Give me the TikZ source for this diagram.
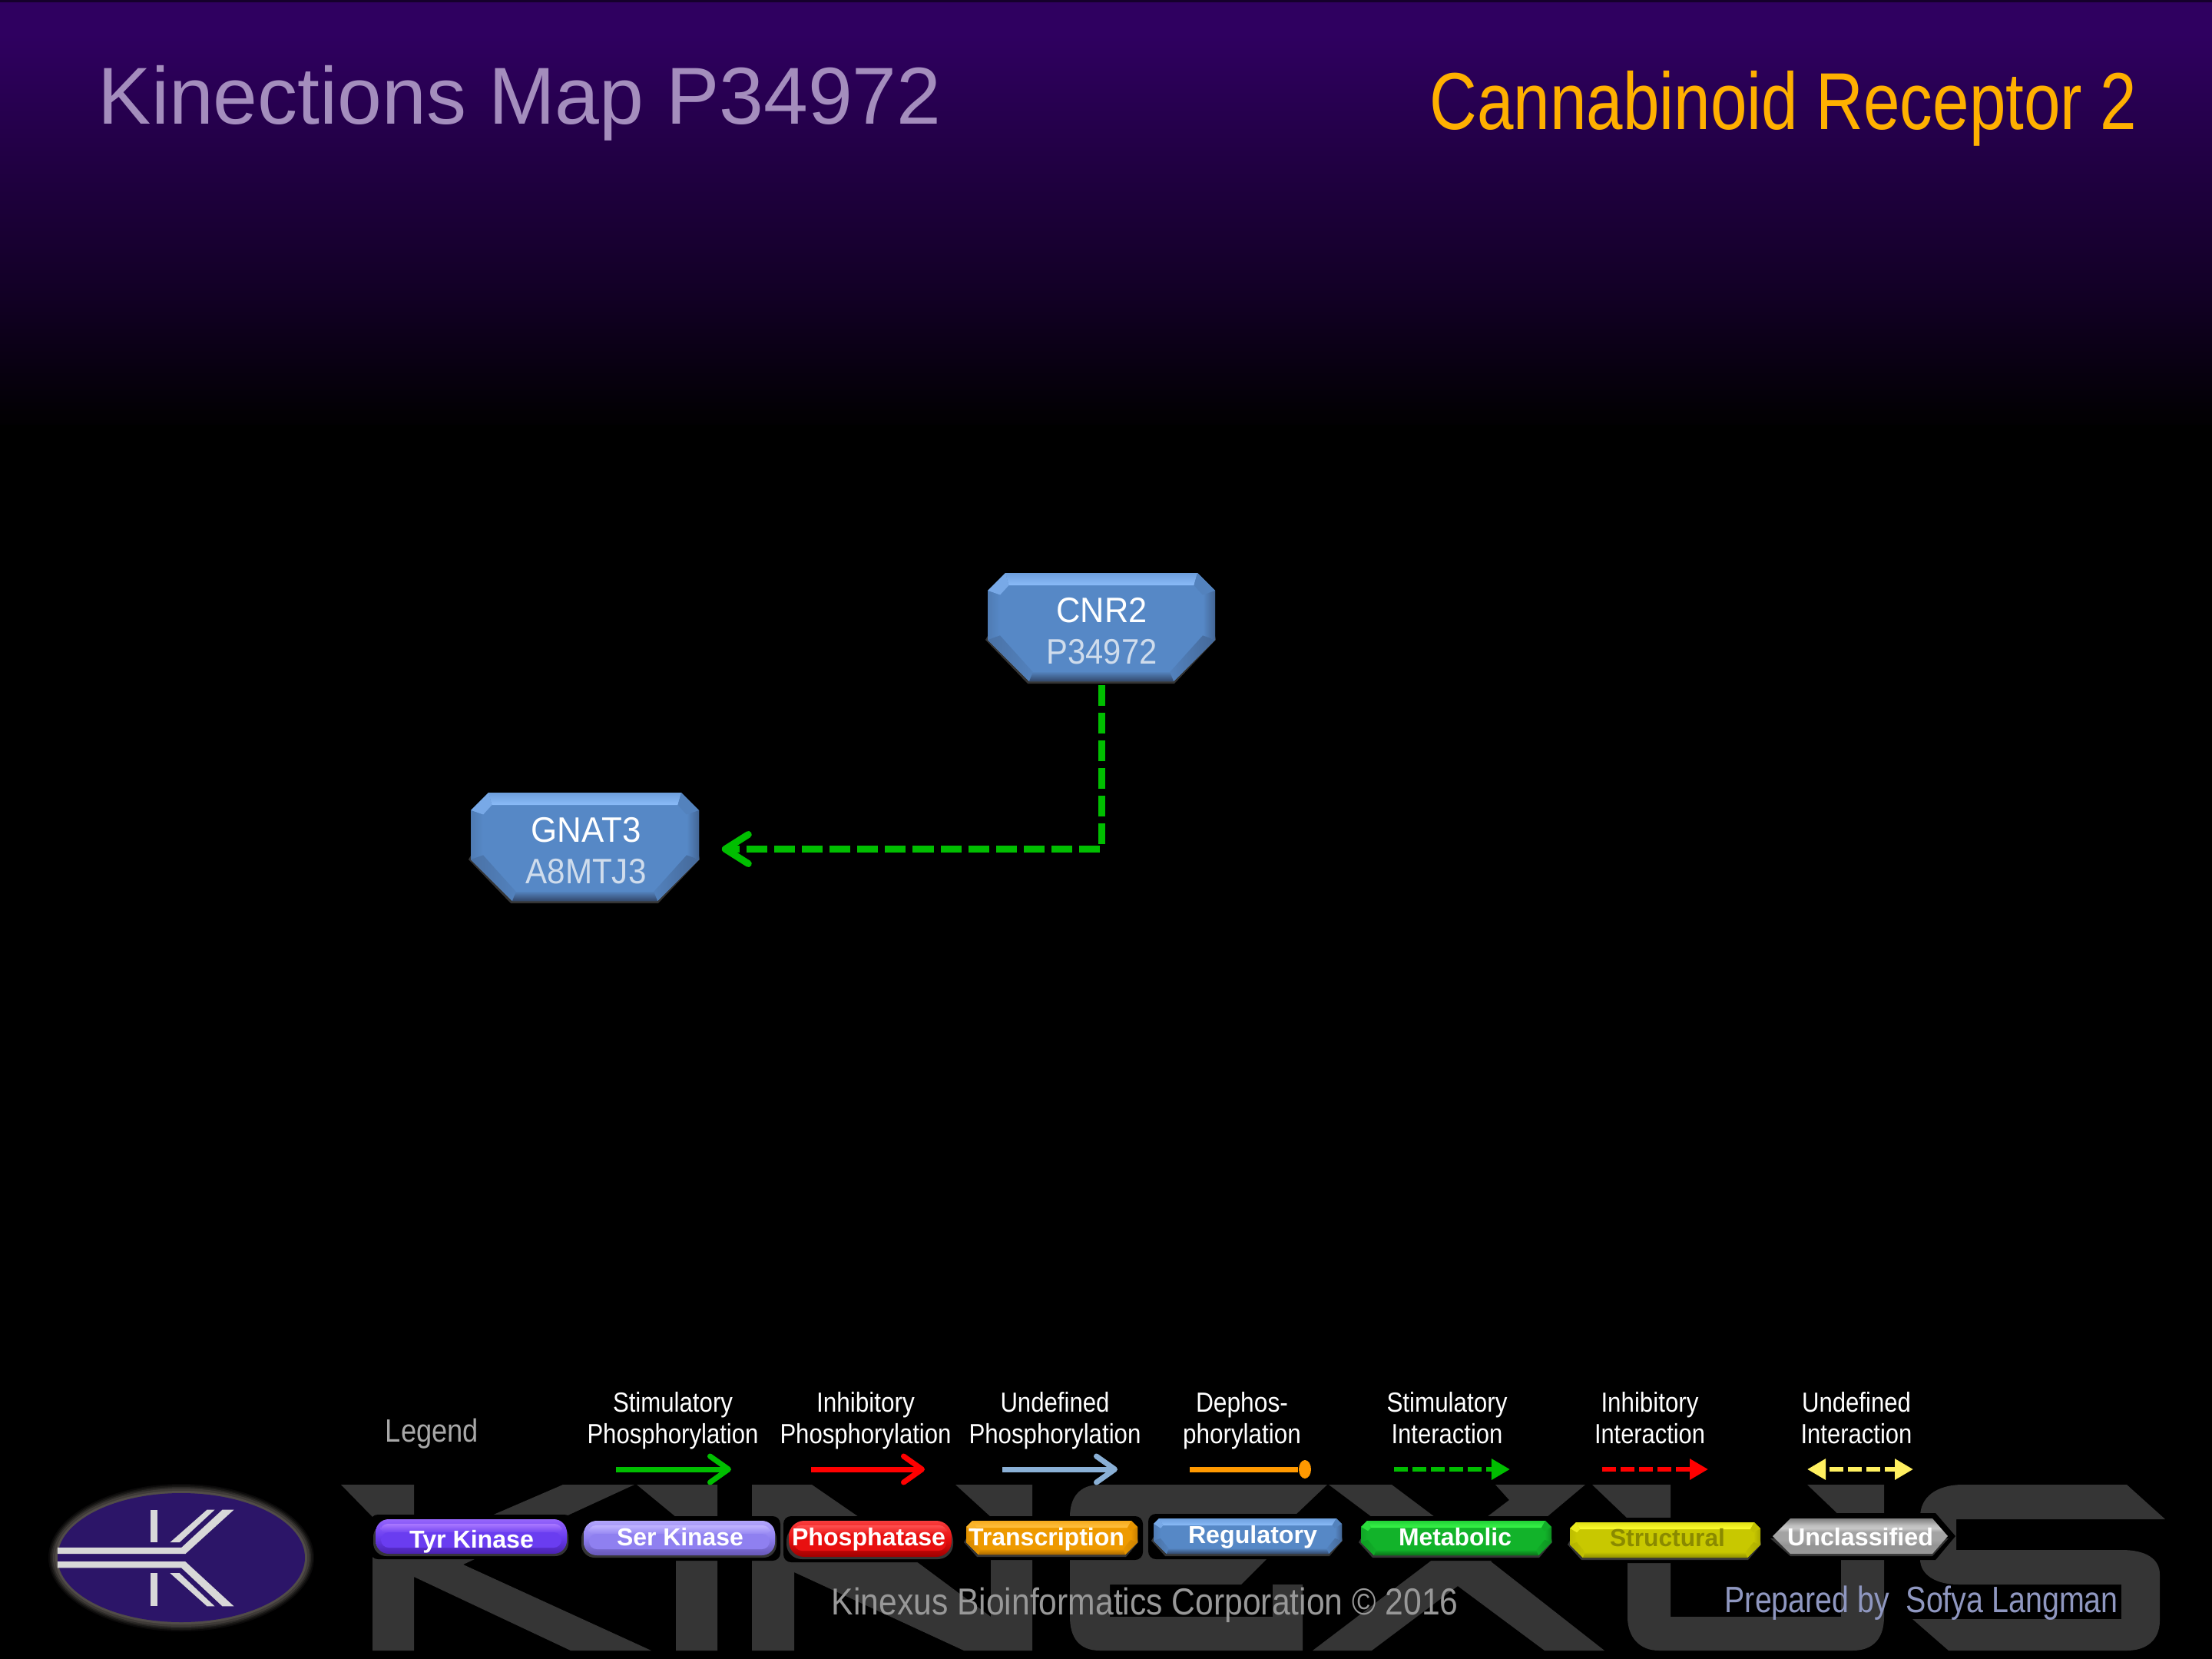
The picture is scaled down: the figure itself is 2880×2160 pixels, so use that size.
\documentclass[tikz,border=0pt]{standalone}
\usepackage{fontspec}
\usepackage{graphicx}
\usetikzlibrary{arrows.meta,shapes.geometric}
\setmainfont{Liberation Sans}
\newlength\pxu \setlength\pxu{0.01cm}
\newcommand{\fw}[2]{\resizebox{#1\pxu}{\height}{#2}}
\definecolor{wmark}{HTML}{353535}
\definecolor{headpurple}{HTML}{2F0060}
\definecolor{titlec}{HTML}{A48DBD}
\definecolor{gold}{HTML}{FFB000}
\definecolor{lgreen}{HTML}{00BE00}
\definecolor{lblue}{HTML}{8AB0D6}
\definecolor{lorange}{HTML}{FF9900}
\definecolor{lyellow}{HTML}{FFF060}
\definecolor{acctext}{HTML}{CFDCEC}
\definecolor{legendc}{HTML}{A8A8A8}
\definecolor{corpc}{HTML}{989898}
\definecolor{prepc}{HTML}{8F97C0}
\definecolor{logoc}{HTML}{2C1568}
\definecolor{logom}{HTML}{D8D8D8}
\definecolor{logoh}{HTML}{5A5550}
\definecolor{structc}{HTML}{8A8A00}
\definecolor{regbase}{HTML}{5688C6}\definecolor{reglite}{HTML}{8ABBF8}\definecolor{regdark}{HTML}{33486A}
\definecolor{trabase}{HTML}{EE9A00}\definecolor{tralite}{HTML}{FFC040}\definecolor{tradark}{HTML}{A86800}
\definecolor{metbase}{HTML}{12B32A}\definecolor{metlite}{HTML}{38F548}\definecolor{metdark}{HTML}{0A7018}
\definecolor{strbase}{HTML}{C8C800}\definecolor{strlite}{HTML}{FFFF30}\definecolor{strdark}{HTML}{8E8E00}
\definecolor{tyrbase}{HTML}{6A3DF0}\definecolor{tyrlite}{HTML}{A977FF}\definecolor{tyrdark}{HTML}{4A22B0}
\definecolor{serbase}{HTML}{8F80F0}\definecolor{serlite}{HTML}{C0B4FF}\definecolor{serdark}{HTML}{6757B8}
\definecolor{phobase}{HTML}{E81010}\definecolor{pholite}{HTML}{FF5050}\definecolor{phodark}{HTML}{A00000}
\pgfdeclareverticalshading{hexgray}{100bp}{color(0bp)=(black!40); color(25bp)=(black!40); color(37.5bp)=(black!42); color(44bp)=(black!36); color(56bp)=(black!36); color(61bp)=(black!22); color(65bp)=(black!25); color(75bp)=(black!50); color(100bp)=(black!50)}
\pgfdeclareverticalshading{headfade}{100bp}{color(0bp)=(black); color(25bp)=(headpurple!3!black); color(26.5bp)=(headpurple!5!black); color(40bp)=(headpurple!38!black); color(51bp)=(headpurple!60!black); color(71bp)=(headpurple); color(100bp)=(headpurple)}
\colorlet{wmarkshadow}{wmark}
% L R T B cu cl d prefix
\newcommand{\bevel}[8]{
  \fill[wmarkshadow] (#1-3,#4-#6) -- (#1+#6-2,#4+3) -- (#2-#6+1,#4+3) -- (#2+1,#4-#6) -- (#2,#4-#6-5) -- (#1,#4-#6-5) -- cycle;
  \fill[#8base] (#1+#5,#3) -- (#2-#5,#3) -- (#2,#3+#5) -- (#2,#4-#6) -- (#2-#6,#4) -- (#1+#6,#4) -- (#1,#4-#6) -- (#1,#3+#5) -- cycle;
  \shade[top color=#8base!55!#8lite, middle color=#8lite!85!#8base, bottom color=#8lite] (#1+#5,#3) -- (#2-#5,#3) -- (#2-#7-.5*#5,#3+#7) -- (#1+#7+.5*#5,#3+#7) -- cycle;
  \fill[#8base!35!#8lite] (#1,#3+#5) -- (#1+#5,#3) -- (#1+#7+.5*#5,#3+#7) -- (#1+#7,#3+#7+.55*#5) -- cycle;
  \fill[#8base!90!#8dark] (#2-#5,#3) -- (#2,#3+#5) -- (#2-#7,#3+#7+.55*#5) -- (#2-#7-.5*#5,#3+#7) -- cycle;
  \shade[left color=#8base!80!#8dark, right color=#8base] (#1,#3+#5) -- (#1+#7,#3+#7+.55*#5) -- (#1+#7,#4-#6-.35*#7) -- (#1,#4-#6) -- cycle;
  \shade[right color=#8base!45!#8dark, left color=#8base] (#2,#3+#5) -- (#2-#7,#3+#7+.55*#5) -- (#2-#7,#4-#6-.35*#7) -- (#2,#4-#6) -- cycle;
  \shade[left color=#8base!65!#8dark, right color=#8base!90!#8dark] (#1,#4-#6) -- (#1+#7,#4-#6-.35*#7) -- (#1+#6+.3*#7,#4-.75*#7) -- (#1+#6,#4) -- cycle;
  \shade[right color=#8base!50!#8dark, left color=#8base!90!#8dark] (#2,#4-#6) -- (#2-#7,#4-#6-.35*#7) -- (#2-#6-.3*#7,#4-.75*#7) -- (#2-#6,#4) -- cycle;
  \shade[top color=#8base!90!#8dark, bottom color=#8dark] (#1+#6,#4) -- (#2-#6,#4) -- (#2-#6-.3*#7,#4-.75*#7) -- (#1+#6+.3*#7,#4-.75*#7) -- cycle;
}
% black surround of a legend box: L R T B
\newcommand{\halo}[4]{\fill[black,rounded corners=.1cm] (#1-7,#3-6) rectangle (#2+7,#4+7);}
% L R T B radius prefix
\newcommand{\pill}[6]{
  \halo{#1}{#2}{#3}{#4}
  \fill[wmarkshadow,rounded corners=#5] (#1-3,#3+6) rectangle (#2+2,#4+3);
  \shade[top color=#6lite!70!#6base, bottom color=#6dark, middle color=#6base, rounded corners=#5] (#1,#3) rectangle (#2,#4);
  \shade[top color=#6lite, bottom color=#6base, rounded corners=.1cm] (#1+6,#3+6) rectangle (#2-6,#3+19);
  \fill[#6base,rounded corners=.1cm] (#1+7,#3+17) rectangle (#2-7,#4-8);
}
\tikzset{
  wm/.style={fill=wmark},
  protein/.style={minimum width=2.97cm,minimum height=1.41cm,inner sep=0pt,align=center,text=white,
     font=\fontsize{13.1}{15.36}\selectfont},
  pilltext/.style={anchor=base,inner sep=0pt,text=white,font=\fontsize{9.1}{11}\selectfont\bfseries},
  legtext/.style={anchor=base,inner sep=0pt,align=center,text=white,font=\fontsize{10.24}{11.66}\selectfont},
  link/.style={lgreen,line width=.09cm,dash pattern=on .27cm off .09cm},
  barb/.style={-{Straight Barb[length=.24cm,width=.34cm,round,line width=.07cm]},line width=.07cm},
  tridash/.style={line width=.06cm,dash pattern=on .18cm off .06cm},
}
\begin{document}
\begin{tikzpicture}[x=0.01cm,y=-0.01cm]
\useasboundingbox (0,0) rectangle (2880,2160);
\fill[black] (0,0) rectangle (2880,2160);
\shade[shading=headfade] (0,0) rectangle (2880,552);
\fill[headpurple!45!black] (0,0) rectangle (2880,3);

% watermark
\fill[wm] (444,1933) -- (539,1933) -- (539,2000) -- (638,1974) -- (733,1933) -- (826,1933) -- (737,1974) -- (603,2037) -- (848,2149) -- (743,2149) -- (539,2053) -- (539,2149) -- (485,2149) -- (485,1975) -- cycle;
\fill[wm] (829,1933) -- (934,1933) -- (934,2149) -- (880,2149) -- (880,1975) -- cycle;
\fill[wm] (979,1933) -- (1057,1933) -- (1118,1975) -- (1189,2030) -- (1290,2105) -- (1290,1975) -- (1244,1933) -- (1344,1933) -- (1344,2149) -- (1255,2149) -- (1034,2047) -- (1034,2149) -- (979,2149) -- cycle;
\fill[wm] (1393,1975) .. controls (1393,1950) and (1405,1933) .. (1432,1933) -- (1728,1933) -- (1686,1973) -- (1652,2027) -- (1616,2063) -- (1445,2063) -- (1445,2105) -- (1657,2105) -- (1657,2063) -- (1696,2063) -- (1696,2149) -- (1432,2149) .. controls (1405,2149) and (1393,2132) .. (1393,2105) -- cycle;
\fill[wm] (1730,1933) -- (1812,1933) -- (1868,1975) -- (1936,1975) -- (1965,1953) -- (1947,1933) -- (2064,1933) -- (2014,1975) -- (1941,2033) -- (2089,2149) -- (2011,2149) -- (1898,2065) -- (1786,2149) -- (1709,2149) -- (1866,2030) -- (1786,1975) -- cycle;
\fill[wm] (2073,1933) -- (2175,1933) -- (2175,2105) -- (2397,2105) -- (2397,1975) -- (2353,1933) -- (2453,1933) -- (2453,2105) .. controls (2453,2132) and (2440,2149) .. (2412,2149) -- (2160,2149) .. controls (2135,2149) and (2119,2132) .. (2119,2105) -- (2119,1977) -- cycle;
\fill[wm] (2500,1975) .. controls (2500,1950) and (2520,1933) .. (2556,1933) -- (2769,1933) -- (2819,1978) -- (2547,1978) -- (2547,2018) -- (2762,2018) .. controls (2795,2018) and (2812,2030) .. (2812,2050) -- (2812,2110) .. controls (2812,2135) and (2795,2149) .. (2769,2149) -- (2537,2149) -- (2490,2108) -- (2762,2108) -- (2762,2063) -- (2550,2063) .. controls (2520,2063) and (2500,2050) .. (2500,2030) -- cycle;

% titles
\node[anchor=base west,inner sep=0pt,text=titlec,font=\fontsize{29.9}{34}\selectfont] (maptitle) at (127,161) {\fw{1098}{Kinections Map P34972}};
\node[anchor=base west,inner sep=0pt,text=gold,font=\fontsize{29.9}{34}\selectfont] (protname) at (1861,168) {\fw{921}{Cannabinoid Receptor 2}};

% proteins
\bevel{1286}{1582}{746}{887}{23}{54}{16}{reg}
\bevel{613}{910}{1032}{1173}{23}{54}{16}{reg}
\node[protein] (cnr2) at (1434.5,819.5) {\rule{0pt}{.356cm}\fw{118}{CNR2}\\\textcolor{acctext}{\fw{144}{P34972}}};
\node[protein] (gnat3) at (763,1105.5) {\rule{0pt}{.356cm}\fw{143}{GNAT3}\\\textcolor{acctext}{\fw{157}{A8MTJ3}}};
\draw[link,-{Straight Barb[length=.30cm,width=.38cm,round,line width=.09cm]},shorten <=.015cm,shorten >=.275cm] (cnr2.south) |- (gnat3.east);

% legend headings
\node[anchor=base,inner sep=0pt,text=legendc,font=\fontsize{11.95}{14}\selectfont] (legend) at (562.5,1877) {\fw{121}{Legend}};
\node[legtext] (h1) at (876,1879) {\fw{156}{Stimulatory}\\\fw{223}{Phosphorylation}};
\node[legtext] (h2) at (1127,1879) {\fw{128}{Inhibitory}\\\fw{223}{Phosphorylation}};
\node[legtext] (h3) at (1373.5,1879) {\fw{142}{Undefined}\\\fw{224}{Phosphorylation}};
\node[legtext] (h4) at (1617,1879) {\fw{120}{Dephos-}\\\fw{154}{phorylation}};
\node[legtext] (h5) at (1884,1879) {\fw{157}{Stimulatory}\\\fw{145}{Interaction}};
\node[legtext] (h6) at (2148,1879) {\fw{127}{Inhibitory}\\\fw{144}{Interaction}};
\node[legtext] (h7) at (2417,1879) {\fw{142}{Undefined}\\\fw{145}{Interaction}};

% legend connectors
\coordinate (a1s) at (802,1913); \coordinate (a1e) at (952,1913);
\coordinate (a2s) at (1056,1913); \coordinate (a2e) at (1204,1913);
\coordinate (a3s) at (1305,1913); \coordinate (a3e) at (1455,1913);
\coordinate (a4s) at (1549,1913);
\coordinate (a5s) at (1815,1913); \coordinate (a5e) at (1966,1913);
\coordinate (a6s) at (2086,1913); \coordinate (a6e) at (2224,1913);
\coordinate (a7s) at (2353,1913); \coordinate (a7e) at (2491,1913);
\draw[barb,lgreen] (a1s) -- (a1e);
\draw[barb,red] (a2s) -- (a2e);
\draw[barb,lblue] (a3s) -- (a3e);
\node[ellipse,fill=lorange,minimum width=.16cm,minimum height=.24cm,inner sep=0pt] (a4e) at (1699,1913) {};
\draw[lorange,line width=.07cm] (a4s) -- (a4e);
\draw[tridash,lgreen,-{Triangle[length=.24cm,width=.26cm]}] (a5s) -- (a5e);
\draw[tridash,red,-{Triangle[length=.24cm,width=.26cm]}] (a6s) -- (a6e);
\draw[tridash,lyellow,{Triangle[length=.24cm,width=.26cm]}-{Triangle[length=.24cm,width=.26cm]},dash phase=.18cm] (a7s) -- (a7e);

% legend boxes
\pill{489}{738}{1978}{2023}{.17cm}{tyr}
\pill{760}{1009}{1980}{2025}{.17cm}{ser}
\pill{1027}{1239}{1980}{2027}{.2cm}{pho}
\halo{1258}{1481}{1980}{2024}
\bevel{1258}{1481}{1980}{2024}{8}{16}{9}{tra}
\halo{1502}{1747}{1977}{2023}
\bevel{1502}{1747}{1977}{2023}{7}{17}{9}{reg}
\halo{1772}{2020}{1980}{2025}
\bevel{1772}{2020}{1980}{2025}{8}{17}{9}{met}
\halo{2044}{2292}{1982}{2028}
\bevel{2044}{2292}{1982}{2028}{8}{17}{9}{str}
\fill[black] (2296,2000) -- (2327,1970) -- (2520,1970) -- (2546,2000) -- (2520,2031) -- (2327,2031) -- cycle;
\fill[wmarkshadow] (2305,2003) -- (2331,2026) -- (2516,2026) -- (2537,2003) -- cycle;
\shade[shading=hexgray] (2308,2000) -- (2331,1977) -- (2516,1977) -- (2536,2000) -- (2516,2023) -- (2331,2023) -- cycle;

\node[pilltext] (tyr) at (614,2015) {\fw{162}{Tyr Kinase}};
\node[pilltext] (ser) at (885.5,2012) {\fw{165}{Ser Kinase}};
\node[pilltext] (pho) at (1131,2012) {\fw{200}{Phosphatase}};
\node[pilltext] (tra) at (1362.5,2012) {\fw{203}{Transcription}};
\node[pilltext] (reg) at (1631,2009) {\fw{168}{Regulatory}};
\node[pilltext] (met) at (1894.5,2012) {\fw{147}{Metabolic}};
\node[pilltext,text=structc] (str) at (2171,2013) {\fw{150}{Structural}};
\node[pilltext] (unc) at (2422,2012) {\fw{190}{Unclassified}};

% footer
\node[anchor=base west,inner sep=0pt,text=corpc,font=\fontsize{13.9}{16}\selectfont] (corp) at (1082,2102) {\fw{816}{Kinexus Bioinformatics Corporation © 2016}};
\node[anchor=base west,inner sep=0pt,text=prepc,font=\fontsize{13.6}{16}\selectfont] (prep) at (2245,2099) {\fw{214}{Prepared by}};
\node[anchor=base west,inner sep=0pt,text=prepc,font=\fontsize{13.6}{16}\selectfont] (author) at (2481,2099) {\fw{276}{Sofya Langman}};

% logo
\foreach \k/\ex in {88/12,72/10,52/8,30/6,10/3}{
  \fill[logoh!\the\numexpr100-\k\relax!black] (236,2028) ellipse [x radius=161+\ex,y radius=84+\ex];
}
\fill[logoc] (236,2028) ellipse [x radius=161,y radius=84];
\begin{scope}[shift={(40,1920)},x=0.003333cm,y=-0.003333cm]
  \fill[logom] (105,285) -- (590,285) -- (750,137) -- (795,137) -- (605,310) -- (105,310) -- cycle;
  \fill[logom] (105,340) -- (605,340) -- (795,515) -- (750,515) -- (590,365) -- (105,365) -- cycle;
  \fill[logom] (545,265) -- (690,137) -- (720,137) -- (582,265) -- cycle;
  \fill[logom] (545,385) -- (582,385) -- (720,515) -- (690,515) -- cycle;
  \fill[logom] (468,137) rectangle (497,265);
  \fill[logom] (468,385) rectangle (497,515);
\end{scope}
\end{tikzpicture}
\end{document}
